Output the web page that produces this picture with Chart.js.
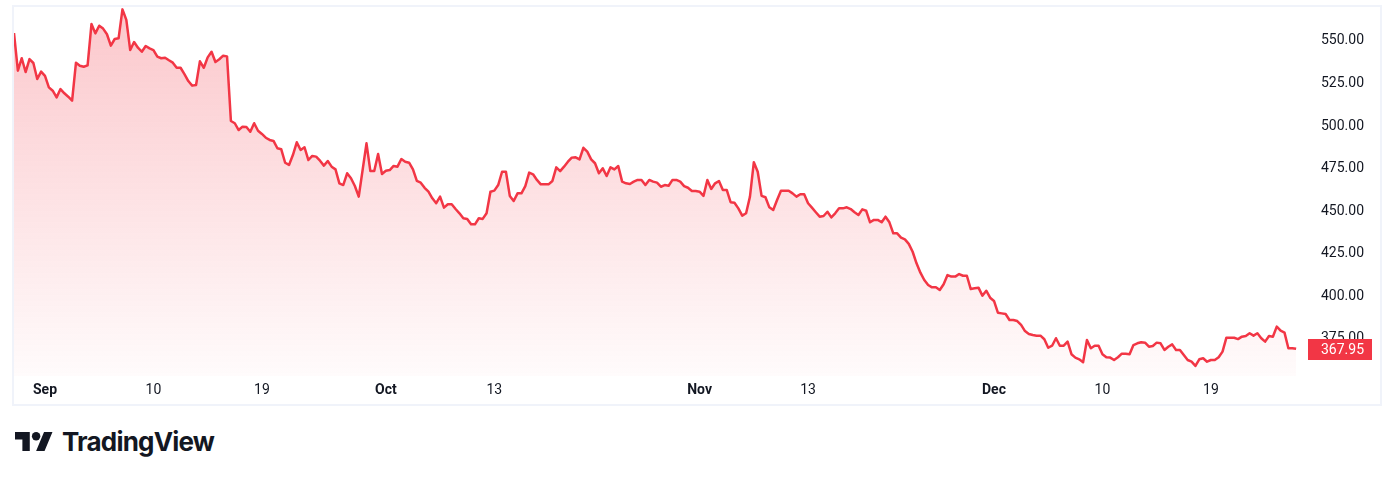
<!DOCTYPE html>
<html>
<head>
<meta charset="utf-8">
<script src="https://cdn.jsdelivr.net/npm/chart.js@4.4.1/dist/chart.umd.min.js"></script>
<style>
    body { margin: 0; background: #fff; width: 1394px; height: 481px; overflow: hidden; }
    #frame {
        position: absolute; left: 12px; top: 5px;
        width: 1366px; height: 397px;
        border: 2px solid #f0f3fa;
    }
    #logo {
        position: absolute; left: 15px; top: 426px;
        display: flex; align-items: center;
        font-family: Inter, Roboto, sans-serif; font-weight: 700;
        font-size: 26px; letter-spacing: -0.8px; color: #131722;
    }
    #logo svg { margin-right: 9px; }
</style>
</head>
<body>
<div id="frame"><canvas id="price-chart" width="1366" height="397"></canvas></div>
<div id="logo">
    <svg width="38" height="19" viewBox="0 4 36 18"><path fill="#131722" d="M14 22H7V11H0V4h14v18zM28 22h-8l7.5-18h8L28 22z"/><circle fill="#131722" cx="20" cy="8" r="4"/></svg>
    <span>TradingView</span>
</div>
<script>
// =============================================
// DATOS
// =============================================

// Cierres, un punto por sesión/intervalo
const prices = [
    553.5, 531.4, 538.7, 530.6, 538.2, 535.9, 526.5, 530.8, 528.3, 521.6, 519.6, 515.7,
    520.6, 518.1, 516.1, 513.8, 536.1, 534.3, 533.7, 534.5, 558.8, 553.3, 557.8, 556.1,
    552.8, 546.1, 550.0, 550.4, 567.4, 561.2, 543.5, 548.2, 544.9, 542.5, 545.9, 544.5,
    543.5, 539.6, 538.7, 539.0, 537.5, 536.1, 533.1, 533.1, 529.4, 525.3, 522.6, 523.0,
    536.9, 533.1, 539.2, 542.5, 536.5, 538.1, 540.2, 539.8, 501.8, 500.5, 496.5, 498.5,
    498.3, 495.5, 500.5, 496.1, 494.2, 492.0, 490.7, 490.1, 485.8, 485.2, 477.3, 476.0,
    481.8, 489.3, 484.8, 486.4, 478.9, 481.3, 480.9, 478.5, 475.6, 478.3, 475.0, 473.4,
    465.2, 464.2, 471.1, 468.2, 463.6, 457.4, 473.0, 488.7, 472.4, 472.4, 482.4, 470.7,
    472.6, 473.0, 475.4, 475.0, 479.5, 477.9, 477.3, 473.4, 466.6, 465.6, 462.6, 460.3,
    456.4, 453.5, 457.4, 450.9, 452.9, 452.9, 450.1, 447.6, 444.7, 444.3, 441.1, 441.1,
    444.7, 444.3, 447.6, 460.3, 460.9, 464.2, 472.0, 472.0, 457.8, 454.8, 459.3, 459.3,
    463.6, 471.5, 470.5, 467.2, 464.6, 464.6, 464.6, 466.6, 474.6, 472.4, 475.0, 477.9,
    480.3, 480.5, 479.3, 486.1, 483.8, 479.3, 477.0, 471.1, 474.0, 469.5, 474.6, 473.4,
    475.4, 466.2, 465.2, 464.8, 466.2, 467.2, 467.2, 464.2, 467.2, 466.2, 465.6, 463.2,
    464.2, 463.8, 467.2, 467.2, 466.2, 463.6, 462.6, 460.7, 460.7, 460.3, 457.8, 467.2,
    461.9, 465.2, 466.6, 461.3, 461.3, 454.1, 453.8, 450.5, 446.2, 447.6, 457.4, 477.6,
    472.0, 457.8, 457.0, 451.1, 449.5, 455.4, 460.9, 460.9, 460.9, 459.3, 457.4, 458.8,
    458.8, 453.5, 450.9, 448.2, 445.6, 446.0, 448.5, 445.2, 447.6, 450.5, 450.5, 451.1,
    450.1, 448.2, 446.6, 449.9, 449.1, 442.3, 443.7, 443.7, 442.3, 445.6, 442.3, 435.8,
    435.8, 433.3, 432.3, 429.6, 425.0, 418.2, 412.7, 408.4, 405.5, 404.1, 404.1, 402.5,
    405.9, 411.3, 410.4, 410.4, 411.9, 410.9, 410.9, 403.1, 403.5, 403.9, 399.2, 402.1,
    398.0, 396.1, 389.2, 388.8, 388.4, 384.9, 384.9, 384.3, 382.0, 378.4, 376.7, 376.1,
    375.7, 375.7, 373.6, 368.6, 369.8, 374.2, 369.8, 369.8, 372.2, 364.8, 362.8, 361.8,
    360.1, 373.2, 368.3, 369.8, 369.8, 364.8, 363.0, 362.8, 361.4, 363.0, 365.1, 365.1,
    364.8, 370.2, 371.2, 371.8, 371.6, 369.2, 369.6, 371.6, 371.2, 367.3, 369.2, 370.6,
    367.3, 367.3, 364.3, 361.4, 360.4, 357.9, 361.8, 362.4, 360.4, 361.4, 361.4, 363.0,
    366.3, 374.5, 374.5, 374.5, 373.7, 375.1, 375.5, 377.1, 375.7, 377.1, 374.2, 372.2,
    375.5, 375.1, 381.0, 378.6, 377.5, 368.3, 368.3, 367.95
];

// Etiquetas del eje temporal y el punto en que caen
const timeLabels = ['Sep', '10', '19', 'Oct', '13', 'Nov', '13', 'Dec', '10', '19'];
const timeTickIdx = [8, 36, 64, 96, 124, 177, 205, 253, 281, 309];
const monthLabels = ['Sep', 'Oct', 'Nov', 'Dec'];

// Etiquetas de la escala de precios
const priceTicks = [375, 400, 425, 450, 475, 500, 525, 550];

const RED = '#f23645';
const TEXT = '#131722';
const FONT = "Roboto, 'Liberation Sans', sans-serif";

// Etiqueta roja con el último precio
const lastPricePlugin = {
    id: 'lastPrice',
    afterDraw(chart) {
        const { ctx, chartArea, scales } = chart;
        const last = prices[prices.length - 1];
        const y = Math.round(scales.y.getPixelForValue(last));
        ctx.save();
        ctx.fillStyle = RED;
        ctx.fillRect(chartArea.right + 8, y - 10, 64, 21);
        ctx.fillStyle = '#fff';
        ctx.font = `14px ${FONT}`;
        ctx.textAlign = 'left';
        ctx.textBaseline = 'middle';
        ctx.fillText(last.toFixed(2), chartArea.right + 21, y + 1);
        ctx.restore();
    }
};

const canvas = document.getElementById('price-chart');
const chart = new Chart(canvas.getContext('2d'), {
    type: 'line',
    data: {
        datasets: [{
            data: prices.map((p, i) => ({ x: i, y: p })),
            borderColor: RED,
            borderWidth: 2.5,
            borderJoinStyle: 'round',
            pointRadius: 0,
            tension: 0,
            fill: 'start',
            backgroundColor: ctx => {
                const area = ctx.chart.chartArea;
                if (!area) return 'rgba(242,54,69,0.15)';
                const g = ctx.chart.ctx.createLinearGradient(0, area.top, 0, area.bottom);
                g.addColorStop(0, 'rgba(242,54,69,0.28)');
                g.addColorStop(1, 'rgba(242,54,69,0.02)');
                return g;
            }
        }]
    },
    options: {
        responsive: false,
        animation: false,
        layout: { padding: 0 },
        plugins: { legend: { display: false }, tooltip: { enabled: false } },
        scales: {
            x: {
                type: 'linear',
                min: 0,
                max: prices.length,
                grid: { display: false, drawTicks: false },
                border: { display: false },
                afterBuildTicks: s => { s.ticks = timeTickIdx.map(v => ({ value: v })); },
                afterFit: s => { s.height = 28; s.paddingLeft = 0; s.paddingRight = 0; },
                ticks: {
                    autoSkip: false,
                    maxRotation: 0,
                    padding: 6,
                    color: TEXT,
                    font: c => ({
                        family: FONT,
                        size: 14,
                        weight: monthLabels.includes(timeLabels[timeTickIdx.indexOf(c.tick && c.tick.value)]) ? 'bold' : 'normal'
                    }),
                    callback: v => timeLabels[timeTickIdx.indexOf(v)] ?? ''
                }
            },
            y: {
                position: 'right',
                min: 352,
                max: 568.8,
                grid: { display: false, drawTicks: false },
                border: { display: false },
                afterBuildTicks: s => { s.ticks = priceTicks.map(v => ({ value: v })); },
                afterFit: s => { s.width = 80; s.paddingTop = 0; s.paddingBottom = 0; },
                ticks: {
                    padding: 21,
                    labelOffset: 2,
                    color: TEXT,
                    font: { family: FONT, size: 14 },
                    callback: v => Number(v).toFixed(2)
                }
            }
        }
    },
    plugins: [lastPricePlugin]
});
</script>
</body>
</html>
